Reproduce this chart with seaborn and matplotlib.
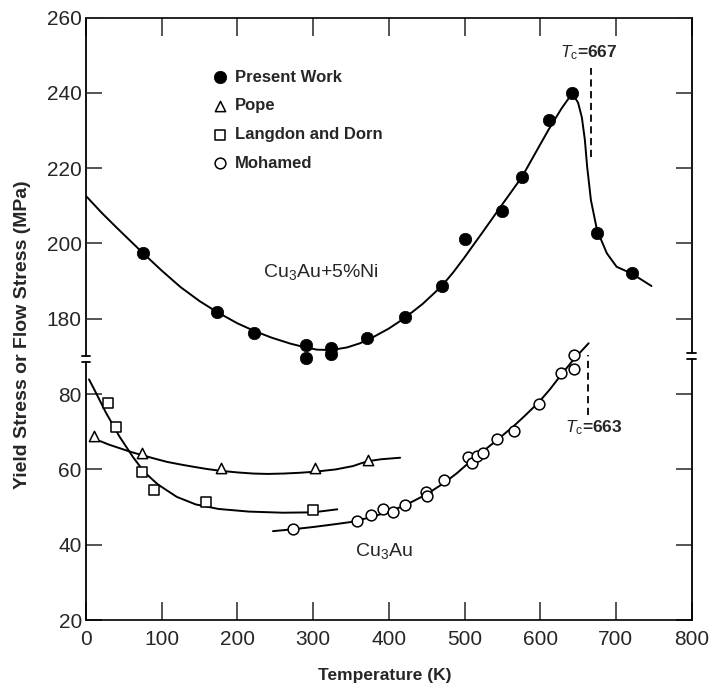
import matplotlib
matplotlib.use('Agg')
import matplotlib.pyplot as plt
import matplotlib.transforms as mtransforms
import seaborn as sns

# ---------------- data ----------------
# Present Work, Cu3Au + 5%Ni (upper part of the broken axis, MPa)
present_T = [75, 173, 222, 291, 291, 324, 324, 371, 421, 470, 501, 550, 576, 611, 642, 675, 721]
present_s = [197.5, 181.8, 176.3, 173.0, 169.5, 172.2, 170.6, 174.8, 180.6, 188.7, 201.2, 208.6,
             217.7, 232.8, 239.9, 202.8, 192.2]
# smooth curve drawn through the present work points
present_fit_T = [1, 20, 40, 58, 75, 100, 125, 150, 173, 200, 222, 245, 270, 290, 305, 324, 345,
                 362, 380, 400, 421, 445, 470, 485, 500, 525, 550, 576, 595, 611, 628, 641, 645,
                 650, 655, 659, 662, 667, 675, 688, 701, 721, 747]
present_fit_s = [212.4, 208.3, 204.3, 200.8, 197.5, 192.8, 188.4, 184.7, 181.8, 178.8, 176.8,
                 175.0, 173.4, 172.4, 171.8, 171.7, 172.4, 173.5, 175.2, 177.4, 180.2, 184.0,
                 188.7, 192.3, 196.3, 203.3, 210.4, 217.7, 224.5, 230.2, 235.8, 239.5, 239.0,
                 237.4, 233.5, 227.5, 220.4, 211.5, 203.6, 197.4, 193.8, 192.0, 188.7]

# Cu3Au (lower part of the broken axis, MPa)
pope_T = [11, 74, 179, 303, 373]
pope_s = [68.9, 64.3, 60.3, 60.3, 62.5]
pope_fit_T = [19, 30, 45, 60, 74, 90, 107, 125, 142, 160, 179, 200, 221, 240, 261, 282, 303, 330,
              353, 363, 373, 390, 415]
pope_fit_s = [67.5, 66.6, 65.6, 64.6, 63.8, 62.9, 62.0, 61.3, 60.7, 60.1, 59.6, 59.2, 58.9, 58.8,
              58.9, 59.1, 59.4, 60.0, 60.9, 61.6, 62.2, 62.7, 63.1]

langdon_T = [29, 40, 74, 90, 158, 300]
langdon_s = [77.7, 71.3, 59.2, 54.5, 51.3, 49.2]
langdon_fit_T = [4, 10, 26, 44, 62, 77, 95, 120, 145, 175, 215, 260, 300, 332]
langdon_fit_s = [83.9, 81.6, 75.2, 68.8, 63.3, 59.3, 56.0, 52.7, 50.7, 49.5, 48.8, 48.5, 48.6, 49.4]

mohamed_T = [273, 358, 377, 392, 406, 421, 449, 450, 473, 505, 510, 516, 524, 543, 565, 598,
             628, 644, 645]
mohamed_s = [44.1, 46.3, 47.9, 49.5, 48.6, 50.5, 53.9, 53.0, 57.2, 63.4, 61.6, 63.5, 64.4, 68.0,
             70.3, 77.4, 85.5, 90.4, 86.6]
mohamed_fit_T = [247, 273, 300, 327, 349, 370, 393, 421, 450, 473, 490, 507, 525, 543, 565, 580,
                 598, 613, 628, 645, 664]
mohamed_fit_s = [43.6, 44.1, 44.7, 45.4, 46.0, 47.0, 48.3, 50.4, 53.4, 56.4, 59.0, 62.0, 64.9,
                 67.8, 71.5, 74.3, 77.8, 81.3, 85.2, 89.4, 93.5]

# order-disorder temperatures and the span of their dashed markers
tc_upper, tc_upper_span = 667, (223.0, 246.6)
tc_lower, tc_lower_span = 663, (74.4, 90.4)

lower_ticks = [20, 40, 60, 80]
upper_ticks = [180, 200, 220, 240, 260]
x_ticks = list(range(0, 801, 100))

# ---------------- styling ----------------
sns.set_style('white')
plt.rcParams['font.family'] = ['Liberation Sans', 'DejaVu Sans']
plt.rcParams['mathtext.fontset'] = 'custom'
plt.rcParams['mathtext.rm'] = 'Liberation Sans'
plt.rcParams['mathtext.it'] = 'Liberation Sans:italic'
plt.rcParams['mathtext.bf'] = 'Liberation Sans:bold'

fig = plt.figure(figsize=(7.13, 6.90), dpi=100)
ax = fig.add_axes([0.1206, 0.1014, 0.8494, 0.8732])   # lower scale (Cu3Au)
ax2 = ax.twinx()                                       # upper scale (Cu3Au + 5%Ni)

ax.set_xlim(0, 800)
ax.set_ylim(20, 180)
ax2.set_ylim(100, 260)

line_kw = dict(color='black', linewidth=1.4, sort=False, estimator=None, legend=False)

# fitted curves
sns.lineplot(x=present_fit_T, y=present_fit_s, ax=ax2, **line_kw)
sns.lineplot(x=pope_fit_T, y=pope_fit_s, ax=ax, **line_kw)
sns.lineplot(x=langdon_fit_T, y=langdon_fit_s, ax=ax, **line_kw)
sns.lineplot(x=mohamed_fit_T, y=mohamed_fit_s, ax=ax, **line_kw)

# data points
sns.scatterplot(x=present_T, y=present_s, ax=ax2, marker='o', s=80, color='black',
                edgecolor='black', linewidth=0.5, label='Present Work', zorder=3, legend=False)
sns.scatterplot(x=pope_T, y=pope_s, ax=ax, marker='^', s=55, facecolor='white',
                edgecolor='black', linewidth=1.1, label='Pope', zorder=3, legend=False)
sns.scatterplot(x=langdon_T, y=langdon_s, ax=ax, marker='s', s=60, facecolor='white',
                edgecolor='black', linewidth=1.1, label='Langdon and Dorn', zorder=3, legend=False)
sns.scatterplot(x=mohamed_T, y=mohamed_s, ax=ax, marker='o', s=60, facecolor='white',
                edgecolor='black', linewidth=1.1, label='Mohamed', zorder=3, legend=False)

# Tc markers
ax2.vlines(tc_upper, *tc_upper_span, colors='black', linewidth=1.3, linestyles=(0, (4, 2.5)))
ax.vlines(tc_lower, *tc_lower_span, colors='black', linewidth=1.3, linestyles=(0, (4, 2.5)))
ax2.text(626, 250.6, r'$T_{\mathrm{c}}$=667', fontsize=12.5, fontweight='bold', va='center')
ax.text(633, 71.0, r'$T_{\mathrm{c}}$=663', fontsize=12.5, fontweight='bold', va='center')

# curve names
ax2.text(234, 192.4, 'Cu$_3$Au+5%Ni', fontsize=14, va='center')
ax.text(355, 38.3, 'Cu$_3$Au', fontsize=14, va='center')

# ticks
ax.set_xticks(x_ticks)
ax.set_yticks(lower_ticks)
ax2.set_yticks(upper_ticks)
ax.tick_params(axis='x', direction='in', length=13, width=1.1, top=True, bottom=True,
               labelsize=15, pad=7)
ax.tick_params(axis='y', direction='in', length=11.5, width=1.1, left=True, right=True,
               labelleft=True, labelright=False, labelsize=15, pad=3)
ax2.tick_params(axis='y', direction='in', length=11.5, width=1.1, left=True, right=True,
                labelleft=True, labelright=False, labelsize=15, pad=3)

# frame with a broken left/right spine
for s in ax2.spines.values():
    s.set_visible(False)
for side in ['left', 'right']:
    ax.spines[side].set_visible(False)
for side in ['top', 'bottom']:
    ax.spines[side].set_linewidth(1.2)
    ax.spines[side].set_color('black')

trans = mtransforms.blended_transform_factory(ax.transAxes, ax.transData)
spine_kw = dict(transform=trans, color='black', linewidth=1.3, clip_on=False, zorder=5)
for xa, gap_lo, gap_hi in [(0, 88.4, 90.0), (1, 89.2, 91.0)]:
    ax.plot([xa, xa], [20, gap_lo], **spine_kw)
    ax.plot([xa, xa], [gap_hi, 180], **spine_kw)
    ax.plot([xa - 0.007, xa + 0.007], [gap_lo, gap_lo], **spine_kw)
    ax.plot([xa - 0.007, xa + 0.007], [gap_hi, gap_hi], **spine_kw)

# axis labels
ax.set_xlabel('Temperature (K)', fontsize=12.5, fontweight='bold')
ax.xaxis.set_label_coords(0.494, -0.080)
ax.set_ylabel('Yield Stress or Flow Stress (MPa)', fontsize=14, fontweight='bold')
ax.yaxis.set_label_coords(-0.091, 0.473)

# legend collecting both scales
h1, l1 = ax2.get_legend_handles_labels()
h0, l0 = ax.get_legend_handles_labels()
ax2.legend(h1 + h0, l1 + l0, loc='upper left', bbox_to_anchor=(0.2076, 0.9134),
           frameon=False, prop={'weight': 'bold', 'size': 12}, handlelength=1.0,
           handletextpad=0.4, labelspacing=0.82, borderpad=0, borderaxespad=0)

fig.savefig('out.png', dpi=100)
